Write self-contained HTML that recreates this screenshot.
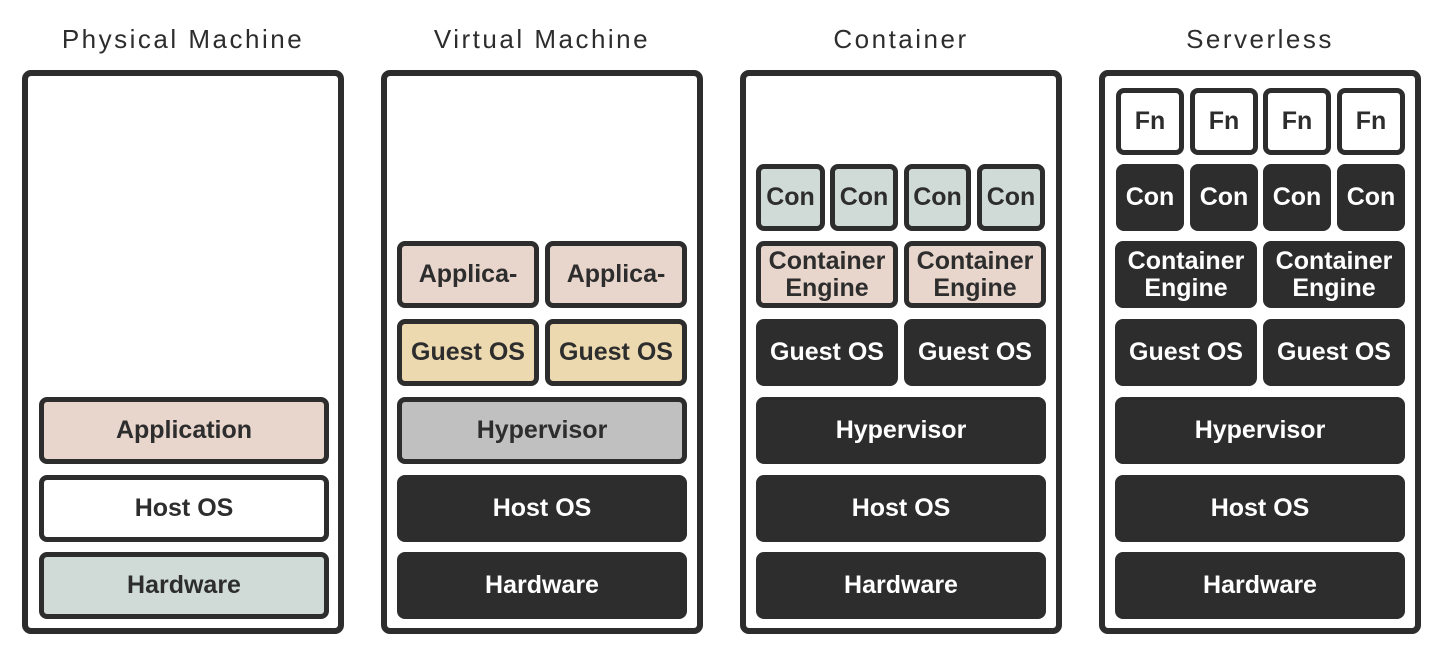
<!DOCTYPE html>
<html><head><meta charset="utf-8"><style>
*{margin:0;padding:0;box-sizing:border-box}
body{width:1448px;height:654px;background:#fff;position:relative;overflow:hidden;font-family:"Liberation Sans","NanumGothic",sans-serif}
.t{position:absolute;top:24px;width:322px;text-align:center;font-size:26px;letter-spacing:2.5px;color:#2d2d2d}
.p{position:absolute;top:70px;width:322px;height:564px;border:6px solid #2d2d2d;border-radius:9px}
.b{position:absolute;height:67px;border-radius:8px;display:flex;align-items:center;justify-content:center;text-align:center;font-weight:bold;font-size:25px;line-height:27px;color:#fff;background:#2d2d2d}
.o{border:5px solid #2d2d2d;color:#2d2d2d}
</style></head><body>
<div class="t" style="left:22px">Physical Machine</div>
<div class="t" style="left:381px">Virtual Machine</div>
<div class="t" style="left:740px">Container</div>
<div class="t" style="left:1099px">Serverless</div>
<div class="p" style="left:22px"></div>
<div class="p" style="left:381px"></div>
<div class="p" style="left:740px"></div>
<div class="p" style="left:1099px"></div>

<div class="b o" style="left:39px;width:290px;top:397px;background:#e8d5cc">Application</div>
<div class="b o" style="left:39px;width:290px;top:475px;background:#fff">Host OS</div>
<div class="b o" style="left:39px;width:290px;top:552px;background:#d0dbd8">Hardware</div>

<div class="b o" style="left:397px;width:142px;top:241px;background:#e8d5cc">Applica-</div>
<div class="b o" style="left:545px;width:142px;top:241px;background:#e8d5cc">Applica-</div>
<div class="b o" style="left:397px;width:142px;top:319px;background:#ecd9b0">Guest OS</div>
<div class="b o" style="left:545px;width:142px;top:319px;background:#ecd9b0">Guest OS</div>
<div class="b o" style="left:397px;width:290px;top:397px;background:#c0c0c0">Hypervisor</div>
<div class="b" style="left:397px;width:290px;top:475px">Host OS</div>
<div class="b" style="left:397px;width:290px;top:552px">Hardware</div>

<div class="b o" style="left:756px;width:69px;top:164px;background:#d0dbd8">Con</div>
<div class="b o" style="left:830px;width:68px;top:164px;background:#d0dbd8">Con</div>
<div class="b o" style="left:904px;width:67px;top:164px;background:#d0dbd8">Con</div>
<div class="b o" style="left:977px;width:68px;top:164px;background:#d0dbd8">Con</div>
<div class="b o" style="left:756px;width:142px;top:241px;background:#e8d5cc">Container<br>Engine</div>
<div class="b o" style="left:904px;width:142px;top:241px;background:#e8d5cc">Container<br>Engine</div>
<div class="b" style="left:756px;width:142px;top:319px">Guest OS</div>
<div class="b" style="left:904px;width:142px;top:319px">Guest OS</div>
<div class="b" style="left:756px;width:290px;top:397px">Hypervisor</div>
<div class="b" style="left:756px;width:290px;top:475px">Host OS</div>
<div class="b" style="left:756px;width:290px;top:552px">Hardware</div>

<div class="b o" style="left:1116px;width:68px;top:88px;background:#fff">Fn</div>
<div class="b o" style="left:1190px;width:68px;top:88px;background:#fff">Fn</div>
<div class="b o" style="left:1263px;width:68px;top:88px;background:#fff">Fn</div>
<div class="b o" style="left:1337px;width:68px;top:88px;background:#fff">Fn</div>
<div class="b" style="left:1116px;width:68px;top:164px">Con</div>
<div class="b" style="left:1190px;width:68px;top:164px">Con</div>
<div class="b" style="left:1263px;width:68px;top:164px">Con</div>
<div class="b" style="left:1337px;width:68px;top:164px">Con</div>
<div class="b" style="left:1115px;width:142px;top:241px">Container<br>Engine</div>
<div class="b" style="left:1263px;width:142px;top:241px">Container<br>Engine</div>
<div class="b" style="left:1115px;width:142px;top:319px">Guest OS</div>
<div class="b" style="left:1263px;width:142px;top:319px">Guest OS</div>
<div class="b" style="left:1115px;width:290px;top:397px">Hypervisor</div>
<div class="b" style="left:1115px;width:290px;top:475px">Host OS</div>
<div class="b" style="left:1115px;width:290px;top:552px">Hardware</div>
</body></html>
